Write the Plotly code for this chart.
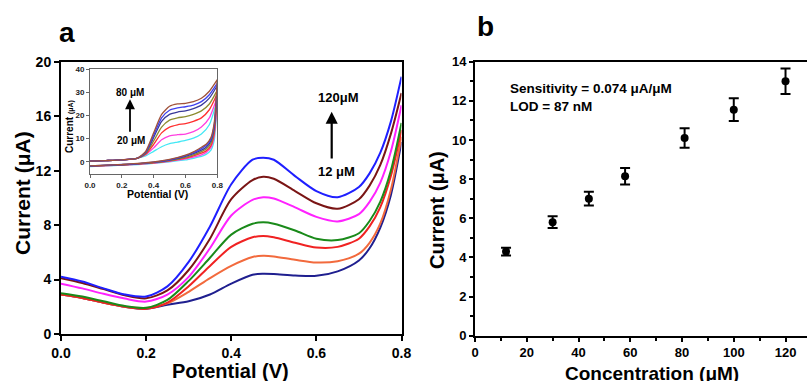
import plotly.graph_objects as go

# ---------------- Panel a: DPV curves ----------------
pot = [0, 0.05, 0.1, 0.15, 0.2, 0.25, 0.3, 0.35, 0.4, 0.45, 0.475, 0.5, 0.55, 0.6, 0.65, 0.7, 0.725, 0.75, 0.775, 0.8]
conc_a = ["12", "30", "44", "58", "81", "100", "120"]
cur_12 = [2.9, 2.65, 2.3, 2.0, 1.85, 2.15, 2.4, 2.9, 3.7, 4.35, 4.42, 4.4, 4.3, 4.27, 4.6, 5.4, 6.3, 7.8, 10.2, 14.1]
cur_30 = [2.9, 2.65, 2.3, 2.0, 1.9, 2.25, 3.1, 4.1, 5.0, 5.65, 5.75, 5.7, 5.45, 5.25, 5.35, 5.9, 6.7, 8.1, 10.6, 14.5]
cur_44 = [2.9, 2.65, 2.3, 2.0, 1.85, 2.3, 3.5, 5.0, 6.4, 7.1, 7.2, 7.1, 6.7, 6.35, 6.4, 7.0, 7.9, 9.3, 11.6, 15.0]
cur_58 = [3.0, 2.75, 2.4, 2.05, 1.92, 2.5, 3.9, 5.6, 7.3, 8.1, 8.2, 8.1, 7.6, 7.0, 6.9, 7.4, 8.3, 9.7, 12.0, 15.5]
cur_81 = [3.7, 3.35, 2.95, 2.6, 2.38, 2.9, 4.2, 6.3, 8.7, 9.85, 10.05, 9.95, 9.3, 8.6, 8.27, 8.8, 9.7, 11.1, 13.4, 16.8]
cur_100 = [4.1, 3.75, 3.3, 2.85, 2.62, 3.2, 4.7, 7.0, 9.9, 11.3, 11.55, 11.4, 10.5, 9.6, 9.2, 9.9, 10.9, 12.4, 14.7, 17.7]
cur_120 = [4.2, 3.85, 3.35, 2.9, 2.75, 3.5, 5.3, 7.9, 11.0, 12.8, 12.95, 12.8, 11.6, 10.5, 10.05, 10.8, 11.8, 13.3, 15.6, 18.9]
colors_a = ["#1f1f8f", "#f26a3d", "#f02222", "#1a8a1a", "#ff22ff", "#7a1515", "#1f1fff"]

# ---------------- Inset: CVs ----------------
pot_fwd = [0, 0.1, 0.2, 0.3, 0.35, 0.4, 0.45, 0.5, 0.55, 0.6, 0.65, 0.7, 0.75, 0.8]
pot_rev = [0.8, 0.79, 0.78, 0.76, 0.73, 0.7, 0.65, 0.6, 0.5, 0.4, 0.3, 0.2, 0.1, 0.0]
conc_in = ["20", "30", "40", "50", "60", "70", "80"]
fwd_20 = [0.3, 0.5, 0.8, 1.6, 2.5, 4.5, 6.5, 7.8, 8.5, 9.2, 10.2, 12.0, 16.0, 27.0]
fwd_30 = [0.3, 0.5, 0.8, 1.6, 3.0, 6.0, 9.5, 11.2, 11.7, 12.0, 13.0, 15.0, 19.0, 28.0]
fwd_40 = [0.3, 0.5, 0.8, 1.6, 3.3, 7.5, 12.5, 15.0, 16.0, 16.5, 17.5, 19.0, 22.5, 29.5]
fwd_50 = [0.3, 0.5, 0.8, 1.6, 3.6, 9.0, 15.0, 18.0, 19.0, 19.5, 20.5, 22.0, 25.0, 31.0]
fwd_60 = [0.3, 0.5, 0.8, 1.6, 4.0, 10.5, 17.5, 20.5, 21.5, 22.0, 23.0, 24.5, 27.5, 33.0]
fwd_70 = [0.3, 0.5, 0.8, 1.6, 4.2, 11.5, 19.0, 22.3, 23.3, 23.8, 24.5, 26.0, 29.0, 34.0]
fwd_80 = [0.3, 0.5, 0.8, 1.6, 4.5, 12.5, 20.5, 24.0, 25.0, 25.3, 26.0, 27.5, 30.5, 35.5]
rev_20 = [27.0, 16.0, 9.0, 5.0, 3.2, 2.3, 1.5, 0.8, 0.0, -0.7, -1.2, -1.5, -1.8, -2.1]
rev_30 = [28.0, 18.0, 11.0, 6.2, 4.0, 3.0, 2.0, 1.2, 0.2, -0.6, -1.1, -1.4, -1.7, -2.0]
rev_40 = [29.5, 19.0, 12.0, 7.0, 4.7, 3.7, 2.5, 1.6, 0.4, -0.5, -1.0, -1.4, -1.7, -2.0]
rev_50 = [31.0, 21.0, 13.5, 8.0, 5.5, 4.4, 3.0, 1.9, 0.5, -0.4, -0.9, -1.3, -1.6, -1.9]
rev_60 = [33.0, 22.0, 14.5, 9.0, 6.3, 5.0, 3.5, 2.3, 0.7, -0.3, -0.9, -1.3, -1.6, -1.9]
rev_70 = [34.0, 23.0, 15.5, 9.8, 7.0, 5.7, 3.9, 2.6, 0.8, -0.2, -0.8, -1.2, -1.5, -1.8]
rev_80 = [35.5, 24.0, 16.5, 10.5, 7.6, 6.3, 4.3, 2.9, 1.0, -0.1, -0.7, -1.2, -1.5, -1.8]
colors_in = ["#44e8f5", "#ff40e0", "#ff3030", "#8c8c30", "#3a3a9a", "#4040ee", "#a0523a"]

# ---------------- Panel b: calibration ----------------
conc_b = [12, 30, 44, 58, 81, 100, 120]
peak_b = [4.3, 5.8, 7.0, 8.15, 10.1, 11.55, 13.0]
err_b = [0.2, 0.3, 0.35, 0.42, 0.5, 0.58, 0.65]

W, H = 807, 381
def X(p):
    return p / W
def Y(p):
    return 1 - p / H

FONT = "Liberation Sans, Arial, sans-serif"

fig = go.Figure()

curves_a = [cur_12, cur_30, cur_44, cur_58, cur_81, cur_100, cur_120]
for name, ys, col in zip(conc_a, curves_a, colors_a):
    fig.add_trace(go.Scatter(x=pot, y=ys, mode="lines", name=name + " µM",
                             line=dict(color=col, width=2, shape="spline", smoothing=0.8),
                             xaxis="x", yaxis="y", showlegend=False))

fwds = [fwd_20, fwd_30, fwd_40, fwd_50, fwd_60, fwd_70, fwd_80]
revs = [rev_20, rev_30, rev_40, rev_50, rev_60, rev_70, rev_80]
for name, f, r, col in zip(conc_in, fwds, revs, colors_in):
    fig.add_trace(go.Scatter(x=pot_fwd + pot_rev, y=f + r, mode="lines", name=name + " µM",
                             line=dict(color=col, width=1.3, shape="spline", smoothing=0.6),
                             xaxis="x2", yaxis="y2", showlegend=False))

fig.add_trace(go.Scatter(x=conc_b, y=peak_b, mode="markers",
                         marker=dict(color="black", size=8),
                         error_y=dict(type="data", array=err_b, color="black", thickness=2, width=5),
                         xaxis="x3", yaxis="y3", showlegend=False))

axis_common = dict(showline=True, linecolor="black", linewidth=2, ticks="outside",
                   tickcolor="black", showgrid=False, zeroline=False, automargin=False)
tf = dict(family=FONT, size=14, color="black", weight="bold")
tfb = dict(family=FONT, size=13, color="black", weight="bold")
tfi = dict(family=FONT, size=8, color="#222", weight="bold")

fig.update_layout(
    template="none",
    width=W, height=H, margin=dict(l=0, r=0, t=0, b=0, pad=0, autoexpand=False),
    paper_bgcolor="white", plot_bgcolor="white",
    font=dict(family=FONT, color="black"),
    xaxis=dict(axis_common, domain=[X(61), X(401.5)], range=[0, 0.8], dtick=0.2,
               tickformat=".1f", ticklen=5, tickwidth=2, mirror=True, tickfont=tf,
               anchor="y"),
    yaxis=dict(axis_common, domain=[Y(334), Y(61.7)], range=[0, 20], dtick=4,
               ticklen=5, tickwidth=2, mirror=True, tickfont=tf, anchor="x"),
    xaxis2=dict(axis_common, domain=[X(90), X(217.3)], range=[0, 0.8], dtick=0.2,
                tickformat=".1f", ticklen=3, tickwidth=1, linewidth=1, linecolor="#666",
                tickcolor="#666", mirror=True, tickfont=tfi, anchor="y2"),
    yaxis2=dict(axis_common, domain=[Y(174), Y(69.3)], range=[-5.3, 40],
                tickvals=[0, 10, 20, 30, 40], ticklen=3, tickwidth=1, linewidth=1,
                linecolor="#666", tickcolor="#666", mirror=True, tickfont=tfi, anchor="x2"),
    xaxis3=dict(axis_common, domain=[X(475), 1.0], range=[0, 128.3], dtick=20,
                ticklen=4, tickwidth=1.5, mirror=True, tickfont=tfb, anchor="y3",
                minor=dict(dtick=10, ticks="outside", ticklen=3, tickwidth=1.5, tickcolor="black")),
    yaxis3=dict(axis_common, domain=[Y(335.7), Y(61.7)], range=[0, 14], dtick=2,
                ticklen=4, tickwidth=1.5, mirror=False, tickfont=tfb, anchor="x3",
                minor=dict(dtick=1, ticks="outside", ticklen=3, tickwidth=1.5, tickcolor="black")),
)

def txt(text, xp, yp, size, xanchor="center", angle=0, color="black"):
    fig.add_annotation(text=text, x=X(xp), y=Y(yp), xref="paper", yref="paper",
                       showarrow=False, xanchor=xanchor, yanchor="middle", textangle=angle,
                       font=dict(family=FONT, size=size, color=color, weight="bold"))

def arrow(xp, head_y, tail_y, width, size):
    fig.add_annotation(text="", x=X(xp), y=Y(head_y), xref="paper", yref="paper",
                       showarrow=True, ax=0, ay=tail_y - head_y, arrowhead=2,
                       arrowsize=size, arrowwidth=width, arrowcolor="black")

# panel labels
txt("a", 67, 33, 28)
txt("b", 485, 26, 28)

# panel a titles
txt("Potential (V)", 231, 371, 20)
txt("Current (μA)", 23, 193, 21, angle=-90)
# panel a annotations
txt("120μM", 337.5, 97, 13)
txt("12 μM", 336, 171, 13)
arrow(331.7, 111.7, 160, 2.2, 1.1)

# inset titles & labels
txt("Potential (V)", 157.5, 193.5, 10.5)
txt("Current <span style='font-size:7px'>(μA)</span>", 70, 127, 10, angle=-90)
txt("80 μM", 130, 92.7, 10)
txt("20 μM", 131, 140.7, 10)
arrow(130, 99.3, 133.3, 1.8, 1.1)

# panel b titles & labels
txt("Concentration (μM)", 652, 373, 19)
txt("Current (μA)", 437, 210, 20, angle=-90)
txt("Sensitivity = 0.074 μA/μM", 508.3, 88, 13.5, xanchor="left")
txt("LOD = 87 nM", 508.3, 106.7, 13.5, xanchor="left")

fig.write_html("out.html", config={"displayModeBar": False},
               post_script="document.body.style.margin='0px';document.body.style.overflow='hidden';")
